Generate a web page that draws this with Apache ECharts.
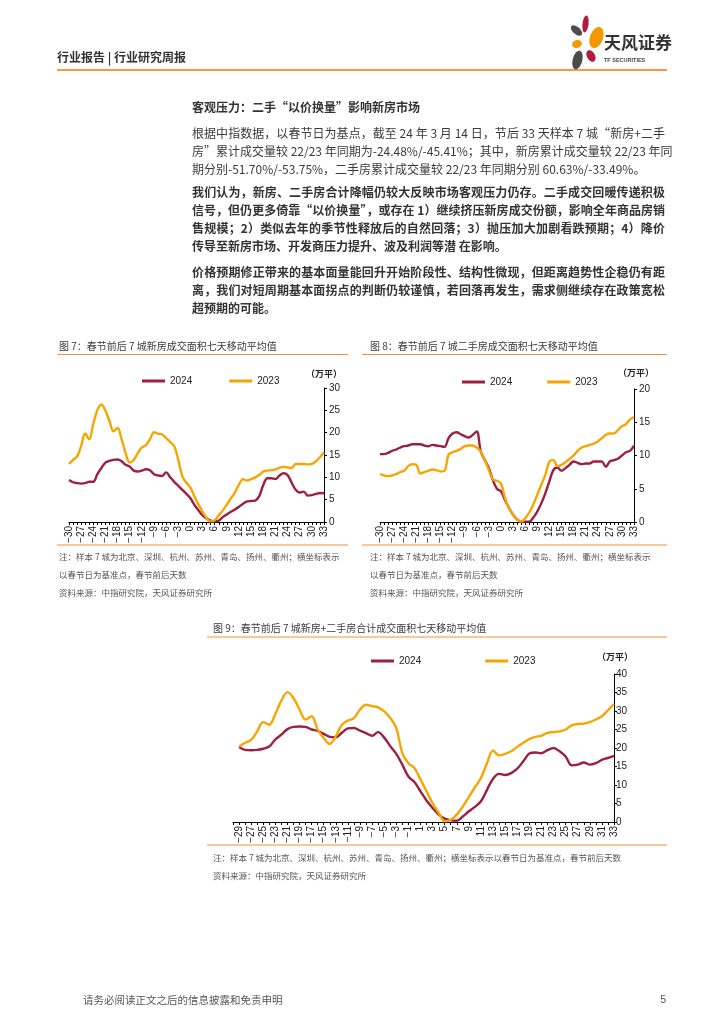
<!DOCTYPE html>
<html><head><meta charset="utf-8">
<script src="https://cdn.jsdelivr.net/npm/echarts@6/dist/echarts.min.js"></script>
<style>
html,body{margin:0;padding:0;background:#fff;width:724px;height:1024px;overflow:hidden;}
#chart{position:absolute;left:0;top:0;width:724px;height:1024px;z-index:0;}
.p{position:absolute;left:192px;width:473px;font-family:"Noto Sans CJK SC","Noto Sans",sans-serif;font-size:12px;color:#3a3a3a;z-index:1;}
.p div{height:18px;line-height:18px;text-align:justify;text-align-last:justify;white-space:nowrap;}
.p div.last{text-align:left;text-align-last:left;}
.b{font-weight:bold;color:#333;}
</style></head>
<body>
<div id="chart"></div>
<div class="p b" style="top:98px;"><div class="last">客观压力：二手“以价换量”影响新房市场</div></div>
<div class="p" style="top:124px;">
<div>根据中指数据，以春节日为基点，截至 24 年 3 月 14 日，节后 33 天样本 7 城“新房+二手</div>
<div style="margin-top:-0.5px">房”累计成交量较 22/23 年同期为-24.48%/-45.41%；其中，新房累计成交量较 22/23 年同</div>
<div class="last">期分别-51.70%/-53.75%，二手房累计成交量较 22/23 年同期分别 60.63%/-33.49%。</div>
</div>
<div class="p b" style="top:183px;">
<div>我们认为，新房、二手房合计降幅仍较大反映市场客观压力仍存。二手成交回暖传递积极</div>
<div>信号，但仍更多倚靠“以价换量”，或存在 1）继续挤压新房成交份额，影响全年商品房销</div>
<div>售规模；2）类似去年的季节性释放后的自然回落；3）抛压加大加剧看跌预期；4）降价</div>
<div class="last">传导至新房市场、开发商压力提升、波及利润等潜 在影响。</div>
</div>
<div class="p b" style="top:263px;">
<div>价格预期修正带来的基本面量能回升开始阶段性、结构性微现，但距离趋势性企稳仍有距</div>
<div>离，我们对短周期基本面拐点的判断仍较谨慎，若回落再发生，需求侧继续存在政策宽松</div>
<div class="last">超预期的可能。</div>
</div>
<script>
// ---- categories (days relative to Spring Festival) ----
const days = ['-30','-29','-28','-27','-26','-25','-24','-23','-22','-21','-20','-19','-18','-17','-16','-15','-14','-13','-12','-11','-10','-9','-8','-7','-6','-5','-4','-3','-2','-1','0','1','2','3','4','5','6','7','8','9','10','11','12','13','14','15','16','17','18','19','20','21','22','23','24','25','26','27','28','29','30','31','32','33'];
const seriesNames = ['2024','2023'];

// ---- Fig 7: new homes, 7-day MA (万平) ----
const newHome2024 = [9.4,8.9,8.7,8.6,8.7,9.0,9.0,10.7,12.1,13.3,13.7,13.9,14.0,13.6,12.8,12.4,11.5,11.3,11.5,11.8,11.6,10.7,10.4,10.3,11.1,10.0,9.0,8.1,7.2,6.3,5.3,3.8,2.6,1.5,0.8,0.3,0.15,0.3,1.1,1.7,2.3,2.8,3.4,4.1,4.6,4.7,4.8,5.8,8.3,9.8,9.8,9.6,10.4,10.9,10.5,8.8,7.2,6.6,6.8,5.9,6.0,6.3,6.5,6.4];
const newHome2023 = [13.0,13.9,14.7,17.0,19.8,18.5,22.0,25.0,26.3,24.9,22.6,20.3,21.1,18.5,15.4,13.3,13.9,15.4,16.7,17.2,18.5,20.1,19.8,19.6,18.8,17.9,17.0,13.9,10.2,8.8,7.7,5.7,3.9,2.3,0.9,0.15,0.4,1.5,2.6,3.9,5.3,6.6,8.4,9.6,9.3,9.6,10.0,10.5,11.3,11.5,11.6,11.8,12.1,12.4,12.2,12.1,13.0,13.0,13.0,12.9,13.0,13.6,14.5,15.6];

// ---- Fig 8: second-hand homes, 7-day MA (万平) ----
const resale2024 = [10.2,10.2,10.4,10.7,10.9,11.2,11.4,11.5,11.7,11.7,11.7,11.5,11.4,11.6,11.5,11.4,11.3,12.6,13.3,13.5,13.2,12.9,12.7,13.1,13.6,10.6,9.3,8.1,6.3,5.0,4.6,3.3,2.1,1.1,0.4,0.05,0.05,0.05,0.65,1.55,2.8,4.3,6.1,7.8,8.2,7.7,8.1,8.6,9.1,8.9,8.7,8.8,8.8,9.1,9.1,9.1,8.3,9.1,9.3,9.5,10.0,10.5,10.7,11.5];
const resale2023 = [7.2,7.0,6.9,7.0,7.2,7.5,7.7,8.4,8.7,8.6,7.3,7.5,7.7,7.9,7.8,7.6,7.7,10.1,10.5,10.7,11.0,11.4,11.5,11.5,11.2,10.6,9.3,7.8,6.4,6.2,5.8,3.6,2.1,1.1,0.4,0.05,0.55,1.4,2.6,4.1,5.6,7.1,9.1,9.3,8.4,8.6,9.0,9.5,10.0,10.7,11.2,11.4,11.6,11.8,12.1,12.6,13.1,13.3,13.3,13.8,14.4,14.7,15.4,15.8];

// ---- Fig 9: new + second-hand combined, 7-day MA (万平) ----
const total2024 = [null,20.3,19.5,19.4,19.5,19.8,20.4,22.3,23.6,25.1,25.7,25.8,25.7,25.0,24.6,23.8,23.0,22.9,24.1,25.3,25.4,24.7,24.0,23.3,24.3,22.8,20.5,18.4,15.5,12.3,10.8,8.3,5.8,3.8,2.0,0.9,0.45,0.35,1.5,2.9,4.1,5.6,8.7,11.7,13.0,12.7,13.2,14.4,16.4,18.5,18.8,18.6,19.4,20.0,19.1,17.7,15.3,15.5,16.1,15.5,15.9,16.8,17.3,17.9];
const total2023 = [null,20.4,21.4,22.2,24.5,27.0,26.3,29.2,32.8,35.1,33.5,30.4,27.7,28.6,25.0,22.7,21.1,23.2,26.3,27.4,28.1,30.4,31.7,31.3,31.0,29.9,28.1,25.4,18.6,15.9,14.6,11.5,8.3,5.1,2.5,0.2,0.6,2.0,4.2,6.7,9.4,11.9,15.9,19.3,18.0,18.4,19.1,20.3,21.4,22.4,23.0,23.3,24.1,24.3,24.5,25.0,26.1,26.5,26.6,27.0,27.7,28.6,30.2,31.9];

// ---- text ----
const titles = ['图 7：春节前后 7 城新房成交面积七天移动平均值','图 8：春节前后 7 城二手房成交面积七天移动平均值','图 9：春节前后 7 城新房+二手房合计成交面积七天移动平均值'];
const notesSmall = ['注：样本 7 城为北京、深圳、杭州、苏州、青岛、扬州、衢州；横坐标表示','以春节日为基准点，春节前后天数','资料来源：中指研究院，天风证券研究所'];
const notesWide = ['注：样本 7 城为北京、深圳、杭州、苏州、青岛、扬州、衢州；横坐标表示以春节日为基准点，春节前后天数','资料来源：中指研究院，天风证券研究所'];
const unitLabel = '（万平）';

const RED = '#9d1f43', ORANGE = '#f6a600', LINE_OR = '#f2903f';
const NUMFONT = '"Liberation Sans Narrow","Liberation Sans",Arial,sans-serif';
const CJK = '"Noto Sans CJK SC","Noto Sans",sans-serif';

function xAxisCfg(gi, labelInterval) {
  return {
    gridIndex: gi, type: 'category', data: days, boundaryGap: false,
    axisLine: { lineStyle: { color: '#000', width: 1 } },
    axisTick: { show: true, interval: 0, length: 3, lineStyle: { color: '#000' } },
    axisLabel: { interval: labelInterval, rotate: 90, fontSize: 10, color: '#222', margin: 4,
      fontFamily: NUMFONT, formatter: v => v.replace('-', '\u2212') },
    splitLine: { show: false }
  };
}
function yAxisCfg(gi, max, margin) {
  return {
    gridIndex: gi, type: 'value', position: 'right', min: 0, max: max, interval: 5,
    axisLine: { show: true, lineStyle: { color: '#000', width: 1 } },
    axisTick: { show: true, length: 3, lineStyle: { color: '#000' } },
    axisLabel: { fontSize: 10, color: '#222', margin: margin, fontFamily: NUMFONT },
    splitLine: { show: false }
  };
}
function lineSeries(name, data, gi, color) {
  return { name: name, type: 'line', xAxisIndex: gi, yAxisIndex: gi, data: data,
    smooth: 0.35, symbol: 'none', lineStyle: { color: color, width: 2.4 }, itemStyle: { color: color } };
}
function legendCfg(left, top, gap) {
  return { data: seriesNames, left: left, top: top, itemWidth: 23, itemHeight: 3, itemGap: gap,
    icon: 'rect', selectedMode: false, textStyle: { fontSize: 10, color: '#222', fontFamily: NUMFONT } };
}
function txt(x, y, text, size, opts) {
  opts = opts || {};
  return { type: 'text', x: x, y: y, silent: true,
    style: { text: text, fontSize: size, fontFamily: opts.font || CJK, fill: opts.fill || '#333',
      fontWeight: opts.bold ? 'bold' : 'normal', align: opts.align || 'left', verticalAlign: 'middle' } };
}
function hline(x1, x2, y, w, c) {
  return { type: 'line', silent: true, shape: { x1: x1, y1: y, x2: x2, y2: y }, style: { stroke: c || LINE_OR, lineWidth: w || 1 } };
}
function petal(cx, cy, rx, ry, rot, color) {
  return { type: 'ellipse', x: cx, y: cy, rotation: rot, silent: true, shape: { cx: 0, cy: 0, rx: rx, ry: ry }, style: { fill: color } };
}

const graphics = [
  // header
  txt(57, 57, '行业报告 | 行业研究周报', 12, { bold: true, fill: '#333' }),
  hline(57, 667, 70, 2, '#f39a45'),
  petal(585.5, 24, 3, 8.5, -0.12, '#b31b3f'),
  petal(576.5, 30.5, 3.6, 6.8, 0.85, '#4b4b4b'),
  petal(596.5, 37.5, 6.5, 11, -0.35, '#f39800'),
  petal(577, 44, 5, 3.8, 0.3, '#f39800'),
  petal(591, 56, 4, 6.2, 0.5, '#b31b3f'),
  petal(577.5, 60, 4.8, 9.5, -0.25, '#4b4b4b'),
  txt(604, 43, '天风证券', 17, { bold: true, fill: '#333' }),
  txt(604, 60.5, 'TF SECURITIES', 5.5, { bold: true, fill: '#444', font: '"Liberation Sans",Arial,sans-serif' }),
  // chart 7 frame text
  txt(59, 346, titles[0], 10, { fill: '#3a3a3a' }),
  hline(57, 348, 354.5),
  txt(342, 373.5, unitLabel, 9, { bold: true, fill: '#222', align: 'right' }),
  hline(57, 348, 545),
  txt(59, 557, notesSmall[0], 8.5, { fill: '#555' }),
  txt(59, 575, notesSmall[1], 8.5, { fill: '#555' }),
  txt(59, 593, notesSmall[2], 8.5, { fill: '#555' }),
  // chart 8
  txt(370, 346, titles[1], 10, { fill: '#3a3a3a' }),
  hline(362, 667, 354.5),
  txt(654, 373, unitLabel, 9, { bold: true, fill: '#222', align: 'right' }),
  hline(362, 667, 545),
  txt(370, 557, notesSmall[0], 8.5, { fill: '#555' }),
  txt(370, 575, notesSmall[1], 8.5, { fill: '#555' }),
  txt(370, 593, notesSmall[2], 8.5, { fill: '#555' }),
  // chart 9
  txt(213, 628, titles[2], 10, { fill: '#3a3a3a' }),
  hline(207, 667, 637),
  txt(633, 657, unitLabel, 9, { bold: true, fill: '#222', align: 'right' }),
  hline(207, 667, 845),
  txt(213, 858, notesWide[0], 8.5, { fill: '#555' }),
  txt(213, 876, notesWide[1], 8.5, { fill: '#555' }),
  // footer
  txt(83, 1000, '请务必阅读正文之后的信息披露和免责申明', 10.5, { fill: '#555' }),
  txt(666, 1000, '5', 10.5, { fill: '#555', align: 'right', font: NUMFONT })
];

const chart = echarts.init(document.getElementById('chart'), null, { renderer: 'canvas' });
chart.setOption({
  animation: false,
  backgroundColor: '#fff',
  grid: [
    { left: 69, top: 388, width: 255, height: 134 },
    { left: 380, top: 389, width: 254, height: 133 },
    { left: 233, top: 674, width: 381, height: 148 }
  ],
  legend: [ legendCfg(137, 371, 37), legendCfg(457, 372, 35), legendCfg(366, 651, 64) ],
  xAxis: [ xAxisCfg(0, 2), xAxisCfg(1, 2), xAxisCfg(2, (i) => i % 2 === 1) ],
  yAxis: [ yAxisCfg(0, 30, 5), yAxisCfg(1, 20, 5), yAxisCfg(2, 40, 2) ],
  series: [
    lineSeries(seriesNames[0], newHome2024, 0, RED),
    lineSeries(seriesNames[1], newHome2023, 0, ORANGE),
    lineSeries(seriesNames[0], resale2024, 1, RED),
    lineSeries(seriesNames[1], resale2023, 1, ORANGE),
    lineSeries(seriesNames[0], total2024, 2, RED),
    lineSeries(seriesNames[1], total2023, 2, ORANGE)
  ],
  graphic: graphics
});
</script>
</body></html>
